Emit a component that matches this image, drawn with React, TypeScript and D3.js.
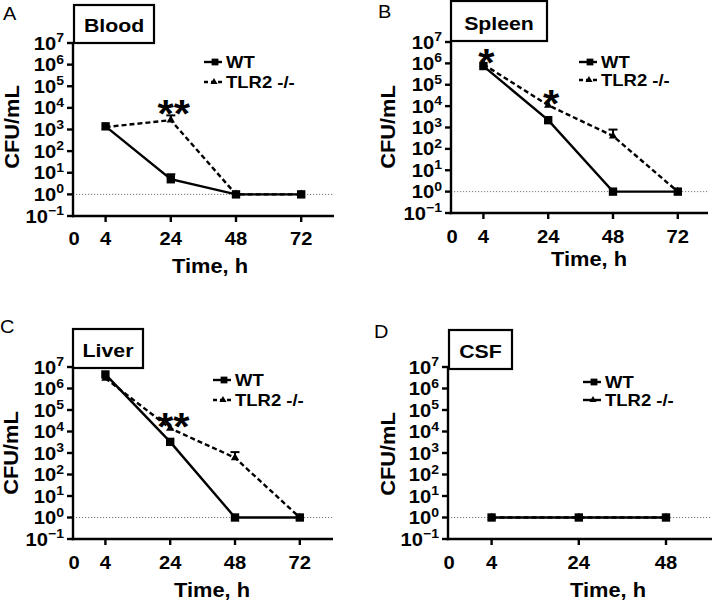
import React from "react";
import * as d3 from "d3";

// ---------- data ----------
const timeLabels = [0, 4, 24, 48, 72];
const csfTimeLabels = [0, 4, 24, 48];
const sampleTimes = [4, 24, 48, 72];
const csfSampleTimes = [4, 24, 48];
const yExponents = [-1, 0, 1, 2, 3, 4, 5, 6, 7];
const seriesNames = ["WT", "TLR2 -/-"];
const organs = ["Blood", "Spleen", "Liver", "CSF"];
const panelLetters = ["A", "B", "C", "D"];

const bloodWT = [1.4e3, 5, 1, 1];
const bloodWTErr = [0, 3.5, 0, 0];
const bloodKO = [1.3e3, 2.7e3, 1, 1];
const bloodKOErr = [0, 1.8e3, 0, 0];

const spleenWT = [7.5e5, 2.2e3, 1, 1];
const spleenWTErr = [0, 0, 0, 0];
const spleenKO = [9e5, 1.1e4, 4e2, 1];
const spleenKOErr = [0, 0, 4e2, 0];

const liverWT = [4.5e6, 3.3e3, 1, 1];
const liverWTErr = [0, 0, 0, 0];
const liverKO = [3e6, 1.4e4, 6e2, 1];
const liverKOErr = [0, 0, 5e2, 0];

const csfWT = [1, 1, 1];
const csfWTErr = [0, 0, 0];
const csfKO = [1, 1, 1];
const csfKOErr = [0, 0, 0];

const bloodStars = [{ time: 24, label: "**" }];
const spleenStars = [{ time: 4, label: "*" }, { time: 24, label: "*" }];
const liverStars = [{ time: 24, label: "**" }];
const csfStars: { time: number; label: string }[] = [];

// ---------- layout ----------
const FONT = "'Liberation Sans', Arial, Helvetica, sans-serif";
const SX = 1.12;
const timeSlot = d3.scaleOrdinal<number, number>().domain([0, 4, 24, 48, 72]).range([0, 1, 3, 5, 7]);

type Layout = {
  x0: number; top: number; bottom: number; slot: number; xEnd: number;
  legend: { x: number; y1: number; y2: number; koSolid?: boolean };
  title: { x: number; y: number };
  ylab: { x: number; y: number };
  box: { x1: number; x2: number; y1: number; y2: number };
  letter: { x: number; y: number };
  tickY: number;
};

function T(props: {
  x: number; y: number; rotate?: number; anchor?: string; size: number;
  weight?: string; sx?: number; children: any;
}) {
  const { x, y, rotate = 0, anchor = "start", size, weight = "bold", sx = SX, children } = props;
  return (
    <text
      transform={`translate(${x},${y}) rotate(${rotate}) scale(${sx},1)`}
      textAnchor={anchor}
      fontSize={size}
      fontWeight={weight}
      fontFamily={FONT}
      fill="#000"
    >
      {children}
    </text>
  );
}

function Panel(props: {
  layout: Layout; letter: string; organ: string; ticks: number[]; times: number[];
  wt: number[]; wtErr: number[]; ko: number[]; koErr: number[];
  stars: { time: number; label: string }[];
}) {
  const { layout: L, letter, organ, ticks, times, wt, wtErr, ko, koErr, stars } = props;
  const x = d3.scaleLinear().domain([0, 1]).range([L.x0, L.x0 + L.slot]);
  const xt = (t: number) => x(timeSlot(t));
  const y = d3.scaleLog().domain([0.1, 1e7]).range([L.bottom, L.top]);

  const line = d3.line<number>().x((_, i) => xt(times[i])).y((v) => y(v));
  const sq = d3.symbol(d3.symbolSquare, 70)();
  const tri = d3.symbol(d3.symbolTriangle, 30)();
  const sqL = d3.symbol(d3.symbolSquare, 46)();
  const triL = d3.symbol(d3.symbolTriangle, 22)();

  const errBars = (vals: number[], errs: number[], key: string) =>
    vals.map((v, i) =>
      errs[i] > 0 ? (
        <g key={key + i} stroke="#000" strokeWidth={2}>
          <line x1={xt(times[i])} x2={xt(times[i])} y1={y(v)} y2={y(v + errs[i])} />
          <line x1={xt(times[i]) - 4.5} x2={xt(times[i]) + 4.5} y1={y(v + errs[i])} y2={y(v + errs[i])} />
        </g>
      ) : null
    );

  return (
    <g>
      <T x={L.letter.x} y={L.letter.y} size={19} weight="normal" sx={1.05}>{letter}</T>
      {/* dotted detection line */}
      <line x1={L.x0} x2={L.xEnd} y1={y(1)} y2={y(1)} stroke="#777" strokeWidth={1} strokeDasharray="1.2,1.8" />
      {/* axes */}
      <line x1={L.x0} x2={L.x0} y1={L.top} y2={L.bottom + 1.2} stroke="#000" strokeWidth={2.4} />
      <line x1={L.x0 - 1.2} x2={L.xEnd} y1={L.bottom} y2={L.bottom} stroke="#000" strokeWidth={2.4} />
      {yExponents.map((e) => (
        <g key={"yt" + e}>
          <line x1={L.x0 - 6} x2={L.x0} y1={y(Math.pow(10, e))} y2={y(Math.pow(10, e))} stroke="#000" strokeWidth={2.4} />
          <T x={L.x0 - 9} y={y(Math.pow(10, e)) + 6.5} anchor="end" size={18}>
            10
            <tspan fontSize={12.5} dy={-7.5}>{e < 0 ? "\u2212" + Math.abs(e) : String(e)}</tspan>
          </T>
        </g>
      ))}
      {ticks.map((t) =>
        t === 0 ? null : (
          <line key={"xt" + t} x1={xt(t)} x2={xt(t)} y1={L.bottom} y2={L.bottom + 6} stroke="#000" strokeWidth={2.4} />
        )
      )}
      {ticks.map((t) => (
        <T key={"xl" + t} x={xt(t) + (t === 0 ? 1 : 0)} y={L.tickY} anchor="middle" size={18}>{String(t)}</T>
      ))}
      <T x={L.title.x} y={L.title.y} anchor="middle" size={19.5}>Time, h</T>
      <T x={L.ylab.x + 7} y={L.ylab.y} anchor="middle" size={19.5} rotate={-90}>CFU/mL</T>
      {/* organ box */}
      <rect x={L.box.x1} y={L.box.y1} width={L.box.x2 - L.box.x1} height={L.box.y2 - L.box.y1} fill="#fff" stroke="#000" strokeWidth={2.2} />
      <T x={(L.box.x1 + L.box.x2) / 2} y={L.box.y2 - 11} anchor="middle" size={19}>{organ}</T>
      {/* KO series */}
      <path d={line(ko) || ""} fill="none" stroke="#000" strokeWidth={2.4} strokeDasharray="5,3" />
      {errBars(ko, koErr, "ke")}
      {ko.map((v, i) => (
        <path key={"k" + i} d={tri || ""} transform={`translate(${xt(times[i])},${y(v)})`} fill="#000" />
      ))}
      {/* WT series */}
      <path d={line(wt) || ""} fill="none" stroke="#000" strokeWidth={2.4} />
      {errBars(wt, wtErr, "we")}
      {wt.map((v, i) => (
        <path key={"w" + i} d={sq || ""} transform={`translate(${xt(times[i])},${y(v)})`} fill="#000" />
      ))}
      {/* significance */}
      {stars.map((s, k) => {
        const i = times.indexOf(s.time);
        const topV = Math.max(wt[i] + wtErr[i], ko[i] + koErr[i]);
        const cy = y(topV) - 10;
        return (
          <T key={"s" + k} x={xt(s.time) + 3} y={cy + 22} anchor="middle" size={38} sx={1.1}>{s.label}</T>
        );
      })}
      {/* legend */}
      <g>
        <line x1={L.legend.x} x2={L.legend.x + 18} y1={L.legend.y1} y2={L.legend.y1} stroke="#000" strokeWidth={2.4} />
        <path d={sqL || ""} transform={`translate(${L.legend.x + 11},${L.legend.y1})`} fill="#000" />
        <T x={L.legend.x + 22} y={L.legend.y1 + 6} size={16.5}>{seriesNames[0]}</T>
        <line x1={L.legend.x} x2={L.legend.x + 18} y1={L.legend.y2} y2={L.legend.y2} stroke="#000" strokeWidth={2.4}
          strokeDasharray={L.legend.koSolid ? undefined : "4,3"} />
        <path d={triL || ""} transform={`translate(${L.legend.x + 10},${L.legend.y2})`} fill="#000" />
        <T x={L.legend.x + 22} y={L.legend.y2 + 6} size={16.5}>{seriesNames[1]}</T>
      </g>
    </g>
  );
}

const layouts: Layout[] = [
  { x0: 73, top: 43, bottom: 216, slot: 32.6, xEnd: 334, legend: { x: 204, y1: 62, y2: 82 }, title: { x: 210, y: 273 }, ylab: { x: 12, y: 127 }, box: { x1: 74, x2: 154, y1: 5, y2: 43 }, letter: { x: 3, y: 20 }, tickY: 245 },
  { x0: 451, top: 42, bottom: 213, slot: 32.4, xEnd: 708, legend: { x: 579, y1: 62, y2: 80 }, title: { x: 589, y: 266 }, ylab: { x: 388, y: 127 }, box: { x1: 451, x2: 547, y1: 1, y2: 41 }, letter: { x: 378, y: 18 }, tickY: 243 },
  { x0: 73, top: 367, bottom: 539, slot: 32.4, xEnd: 333, legend: { x: 213, y1: 380, y2: 400 }, title: { x: 212, y: 597 }, ylab: { x: 11, y: 453 }, box: { x1: 73, x2: 143, y1: 329, y2: 368 }, letter: { x: 0, y: 333 }, tickY: 569 },
  { x0: 448, top: 367, bottom: 539, slot: 43.6, xEnd: 712, legend: { x: 583, y1: 382, y2: 400, koSolid: true }, title: { x: 608, y: 597 }, ylab: { x: 388, y: 454 }, box: { x1: 449, x2: 512, y1: 330, y2: 369 }, letter: { x: 374, y: 338 }, tickY: 569 },
];

export default function App() {
  return (
    <svg width={712} height={611} style={{ position: "absolute", left: 0, top: 0, background: "#fff" }}>
      <rect width={712} height={611} fill="#fff" />
      <Panel layout={layouts[0]} letter={panelLetters[0]} organ={organs[0]} ticks={timeLabels} times={sampleTimes}
        wt={bloodWT} wtErr={bloodWTErr} ko={bloodKO} koErr={bloodKOErr} stars={bloodStars} />
      <Panel layout={layouts[1]} letter={panelLetters[1]} organ={organs[1]} ticks={timeLabels} times={sampleTimes}
        wt={spleenWT} wtErr={spleenWTErr} ko={spleenKO} koErr={spleenKOErr} stars={spleenStars} />
      <Panel layout={layouts[2]} letter={panelLetters[2]} organ={organs[2]} ticks={timeLabels} times={sampleTimes}
        wt={liverWT} wtErr={liverWTErr} ko={liverKO} koErr={liverKOErr} stars={liverStars} />
      <Panel layout={layouts[3]} letter={panelLetters[3]} organ={organs[3]} ticks={csfTimeLabels} times={csfSampleTimes}
        wt={csfWT} wtErr={csfWTErr} ko={csfKO} koErr={csfKOErr} stars={csfStars} />
    </svg>
  );
}
